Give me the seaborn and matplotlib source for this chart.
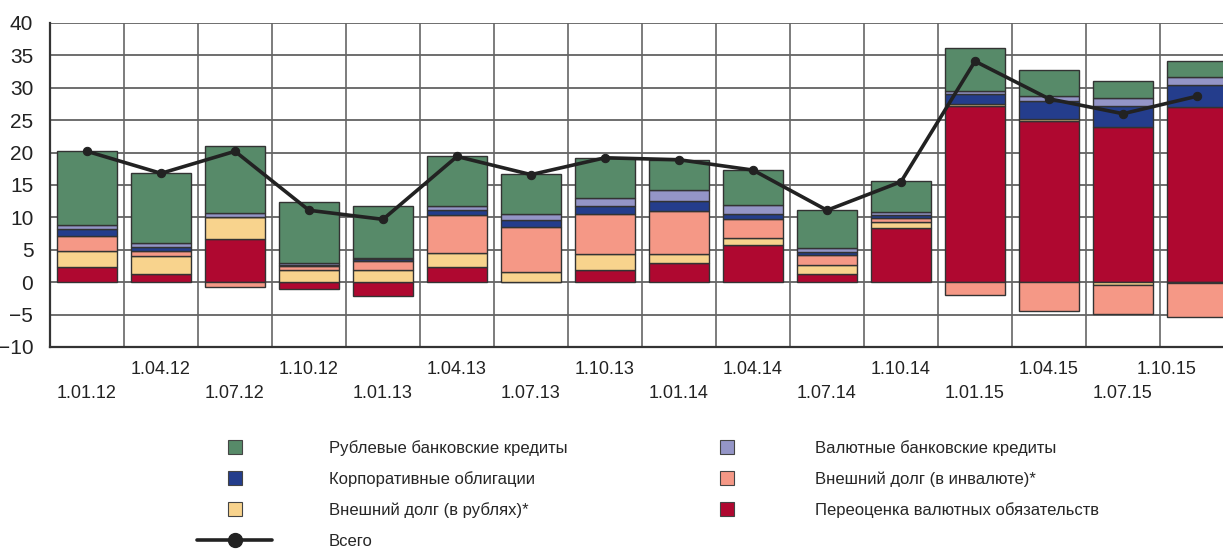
import numpy as np
import matplotlib
matplotlib.use("Agg")
import matplotlib.pyplot as plt
from matplotlib.lines import Line2D
import seaborn as sns

# quarter dates
dates = ['1.01.12', '1.04.12', '1.07.12', '1.10.12', '1.01.13', '1.04.13', '1.07.13', '1.10.13',
         '1.01.14', '1.04.14', '1.07.14', '1.10.14', '1.01.15', '1.04.15', '1.07.15', '1.10.15']

# components (stacked from zero, in this order)
revaluation = [2.4, 1.3, 6.6, -1.1, -2.1, 2.4, 0.0, 1.9, 3.0, 5.8, 1.2, 8.4, 27.2, 24.8, 23.9, 27.1]
ext_debt_rub = [2.4, 2.8, 3.5, 1.9, 1.9, 2.1, 1.6, 2.4, 1.4, 1.0, 1.4, 0.9, 0.3, 0.4, -0.5, -0.15]
ext_debt_fx = [2.3, 0.7, -0.7, 0.6, 1.3, 5.9, 6.9, 6.3, 6.6, 2.9, 1.6, 0.6, -1.9, -4.5, -4.4, -5.2]
corp_bonds = [1.1, 0.7, 0.0, 0.15, 0.35, 0.8, 1.1, 1.2, 1.6, 0.8, 0.5, 0.4, 1.6, 2.8, 3.3, 3.3]
fx_loans = [0.6, 0.6, 0.6, 0.3, 0.25, 0.6, 0.9, 1.2, 1.7, 1.4, 0.6, 0.6, 0.4, 0.7, 1.2, 1.3]
rub_loans = [11.4, 10.7, 10.3, 9.5, 8.0, 7.6, 6.2, 6.2, 4.6, 5.4, 5.9, 4.7, 6.6, 4.1, 2.6, 2.4]
total = [20.2, 16.8, 20.2, 11.1, 9.7, 19.4, 16.6, 19.2, 18.9, 17.3, 11.1, 15.5, 34.1, 28.3, 26.0, 28.7]

names = ['Рублевые банковские кредиты', 'Валютные банковские кредиты', 'Корпоративные облигации',
         'Внешний долг (в инвалюте)*', 'Внешний долг (в рублях)*', 'Переоценка валютных обязательств',
         'Всего']

sns.set_theme(style="white")
plt.rcParams['font.family'] = ['Liberation Sans', 'DejaVu Sans']

fig = plt.figure(figsize=(12.23, 5.5), dpi=100)
ax = fig.add_axes([50 / 1223, 203 / 550, 1184 / 1223, 324 / 550])

x = np.arange(len(dates))
layers = [(revaluation, '#AF0830'), (ext_debt_rub, '#F8D38D'), (ext_debt_fx, '#F59886'),
          (corp_bonds, '#243D8C'), (fx_loans, '#9495C7'), (rub_loans, '#578A69')]

pos_base = np.zeros(len(x))
neg_base = np.zeros(len(x))
for vals, color in layers:
    v = np.array(vals)
    bottom = np.where(v >= 0, pos_base, neg_base)
    ax.bar(x, v, bottom=bottom, width=0.81, color=color, edgecolor='#333333', linewidth=1.0, zorder=2)
    pos_base += np.clip(v, 0, None)
    neg_base += np.clip(v, None, 0)

sns.lineplot(x=x, y=total, color='#222222', linewidth=2.6, marker='o', markersize=6,
             markeredgecolor='#222222', ax=ax, zorder=3)

ax.set_xlim(-0.5, 15.5)
ax.set_ylim(-10, 40)
ax.set_yticks(range(-10, 41, 5))

# staggered date labels: odd quarters on the upper row, even on the lower row
ax.set_xticks(x[1::2])
ax.set_xticklabels(dates[1::2], fontsize=13)
ax.set_xticks(x[0::2], minor=True)
ax.set_xticklabels(dates[0::2], minor=True, fontsize=13)
ax.get_xticklabels()[-1].set_horizontalalignment('right')
ax.get_xticklabels()[-1].set_x(15.42)
ax.tick_params(axis='x', which='major', length=0, pad=10, colors='#222222')
ax.tick_params(axis='x', which='minor', length=0, pad=27, colors='#222222')
ax.tick_params(axis='y', length=0, pad=12, labelsize=15, colors='#222222')

# grid: horizontal every 5, vertical at category borders
for yv in range(-5, 41, 5):
    ax.axhline(yv, color='#555555', linewidth=1.2, zorder=1)
for xv in np.arange(0.5, 15.5, 1):
    ax.axvline(xv, color='#666666', linewidth=1.2, zorder=1)

for side in ['top', 'right']:
    ax.spines[side].set_visible(False)
for side in ['left', 'bottom']:
    ax.spines[side].set_color('#333333')
    ax.spines[side].set_linewidth(1.6)

def box(color):
    return Line2D([], [], linestyle='none', marker='s', markersize=10.5,
                  markerfacecolor=color, markeredgecolor='#444444', markeredgewidth=0.8)

h_left = [box('#578A69'), box('#243D8C'), box('#F8D38D'),
          Line2D([], [], color='#222222', linewidth=2.6, marker='o', markersize=10)]
l_left = [names[0], names[2], names[4], names[6]]
h_right = [box('#9495C7'), box('#F59886'), box('#AF0830')]
l_right = [names[1], names[3], names[5]]

common = dict(loc='upper left', frameon=False, fontsize=12, handlelength=4.5,
              borderpad=0, borderaxespad=0, labelspacing=0.92)
fig.legend(h_left, l_left, bbox_to_anchor=(197 / 1223, 1 - 440 / 550), handletextpad=3.4, **common)
fig.legend(h_right, l_right, bbox_to_anchor=(690 / 1223, 1 - 440 / 550), handletextpad=3.0, **common)

plt.savefig('out.png', dpi=100)
plt.close()
